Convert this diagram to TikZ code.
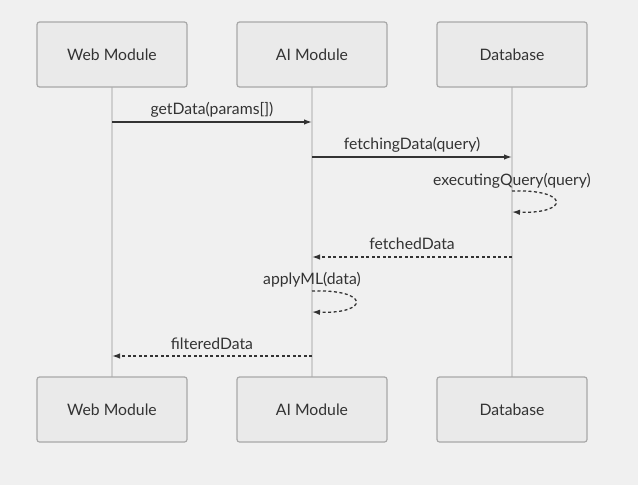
\documentclass[tikz,border=0pt]{standalone}
\usepackage{fontspec}
\setmainfont{Lato}
\usetikzlibrary{arrows.meta}
\definecolor{bg}{HTML}{F0F0F0}
\definecolor{boxfill}{HTML}{EAEAEA}
\definecolor{boxline}{HTML}{A8A8A8}
\definecolor{life}{HTML}{CFCFCF}
\definecolor{msg}{HTML}{333333}
\tikzset{
  x=1pt,y=-1pt,
  actor/.style={draw=boxline,fill=boxfill,line width=1.2pt,rounded corners=2.5pt,minimum width=150pt,minimum height=65pt,inner sep=0pt,font=\fontsize{15.75}{18}\selectfont,text=msg},
  lifeline/.style={draw=life,line width=1.5pt},
  call/.style={draw=msg,line width=1.3pt,-{Latex[length=8pt,width=5.5pt]}},
  reply/.style={call,dash pattern=on 3pt off 2.5pt},
  lbl/.style={font=\fontsize{15.75}{18}\selectfont,text=msg,inner sep=0pt,anchor=base}
}
\begin{document}
\begin{tikzpicture}
\fill[bg] (0,0) rectangle (638,485);
\useasboundingbox (0,0) rectangle (638,485);
% lifelines
\coordinate (wt) at (112,87); \coordinate (wb) at (112,377);
\coordinate (at) at (312,87); \coordinate (ab) at (312,377);
\coordinate (dt) at (512,87); \coordinate (db) at (512,377);
\draw[lifeline] (wt) -- (wb);
\draw[lifeline] (at) -- (ab);
\draw[lifeline] (dt) -- (db);
% actors
\node[actor] (web1) at (112,54.5) {Web Module};
\node[actor] (ai1) at (312,54.5) {AI Module};
\node[actor] (db1) at (512,54.5) {Database};
\node[actor] (web2) at (112,409.5) {Web Module};
\node[actor] (ai2) at (312,409.5) {AI Module};
\node[actor] (db2) at (512,409.5) {Database};
% message endpoints
\coordinate (m1a) at (112,122); \coordinate (m1b) at (312,122);
\coordinate (m2a) at (312,157); \coordinate (m2b) at (512,157);
\coordinate (m3a) at (512,191); \coordinate (m3b) at (512,212);
\coordinate (m4a) at (512,257); \coordinate (m4b) at (312,257);
\coordinate (m5a) at (312,291); \coordinate (m5b) at (312,312);
\coordinate (m6a) at (312,356); \coordinate (m6b) at (112,356);
\draw[call] (m1a) -- (m1b);
\node[lbl] (l1) at (212,114) {getData(params[])};
\draw[call] (m2a) -- (m2b);
\node[lbl] (l2) at (412,149) {fetchingData(query)};
\draw[reply] (m3a) .. controls (570,189) and (570,214) .. (m3b);
\node[lbl] (l3) at (512,185) {executingQuery(query)};
\draw[reply] (m4a) -- (m4b);
\node[lbl] (l4) at (412,249) {fetchedData};
\draw[reply] (m5a) .. controls (370,289) and (370,314) .. (m5b);
\node[lbl] (l5) at (312,284) {applyML(data)};
\draw[reply] (m6a) -- (m6b);
\node[lbl] (l6) at (212,349) {filteredData};
\end{tikzpicture}
\end{document}
